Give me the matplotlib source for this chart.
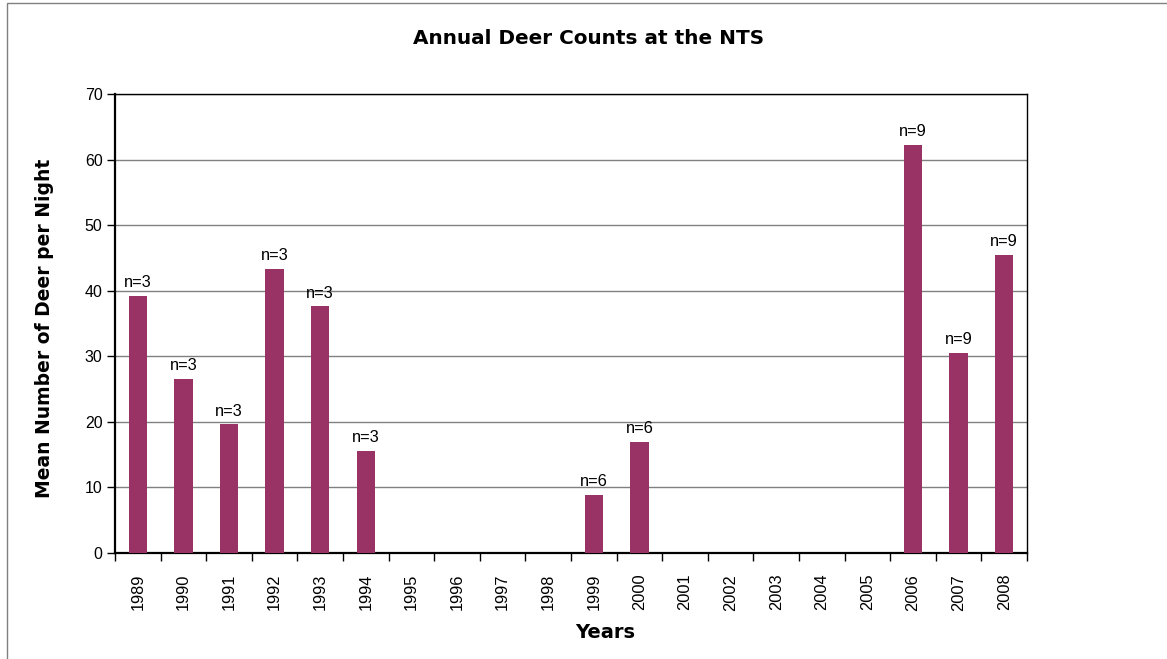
import matplotlib
matplotlib.use("Agg")
import matplotlib.pyplot as plt
from matplotlib.patches import Rectangle
import numpy as np

years = [str(y) for y in range(1989, 2009)]
means = [39.2, 26.6, 19.6, 43.3, 37.6, 15.6, 0, 0, 0, 0, 8.9, 17.0, 0, 0, 0, 0, 0, 62.2, 30.5, 45.5]
n_labels = ["n=3", "n=3", "n=3", "n=3", "n=3", "n=3", "", "", "", "", "n=6", "n=6", "", "", "", "", "", "n=9", "n=9", "n=9"]

plt.rcParams['font.family'] = ['Liberation Sans', 'DejaVu Sans']
bold_font = ['DejaVu Sans', 'Liberation Sans']

W, H = 1167, 659
fig = plt.figure(figsize=(W / 100, H / 100), dpi=100)
fig.patches.append(Rectangle((7 / W, -0.05), 1.2, 1 - 3 / H + 0.05, transform=fig.transFigure,
                             fill=False, edgecolor='#808080', linewidth=1.0))
ax = fig.add_axes([115 / W, 1 - 553 / H, (1027 - 115) / W, (553 - 94) / H])

x = np.arange(len(years))
ax.bar(x, means, width=0.4, color='#993366', zorder=3)
for xi, v, lab in zip(x, means, n_labels):
    if lab:
        ax.text(xi, v + 0.9, lab, ha='center', va='bottom', fontsize=11.8, zorder=4)

ax.set_xlim(-0.5, len(years) - 0.5)
ax.set_ylim(0, 70)
ax.set_yticks(range(0, 71, 10))
ax.yaxis.grid(True, color='#808080', linewidth=1.0, zorder=0)
ax.set_axisbelow(True)

ax.set_xticks(x)
ax.set_xticklabels(years, rotation=90, fontsize=11.8)
ax.set_xticks(np.arange(-0.5, len(years), 1.0), minor=True)
ax.tick_params(axis='x', which='major', length=0, pad=15)
ax.tick_params(axis='x', which='minor', length=6, width=1, direction='out')
ax.tick_params(axis='y', length=6, width=1, direction='out', labelsize=11.5, pad=3)

for s in ['left', 'bottom']:
    ax.spines[s].set_linewidth(1.6)
    ax.spines[s].set_color('black')
for s in ['top', 'right']:
    ax.spines[s].set_linewidth(1.0)
    ax.spines[s].set_color('black')

fig.text(589 / W, 1 - 38.5 / H, "Annual Deer Counts at the NTS",
         fontsize=14.4, fontweight='bold', family=bold_font, ha='center', va='center')
fig.text(605 / W, 1 - 632 / H, "Years", fontsize=14, fontweight='bold', family=bold_font,
         ha='center', va='center')
fig.text(45 / W, 1 - 328 / H, "Mean Number of Deer per Night", fontsize=13.5, fontweight='bold',
         family=bold_font, ha='center', va='center', rotation=90)

fig.savefig("out.png", dpi=100)
